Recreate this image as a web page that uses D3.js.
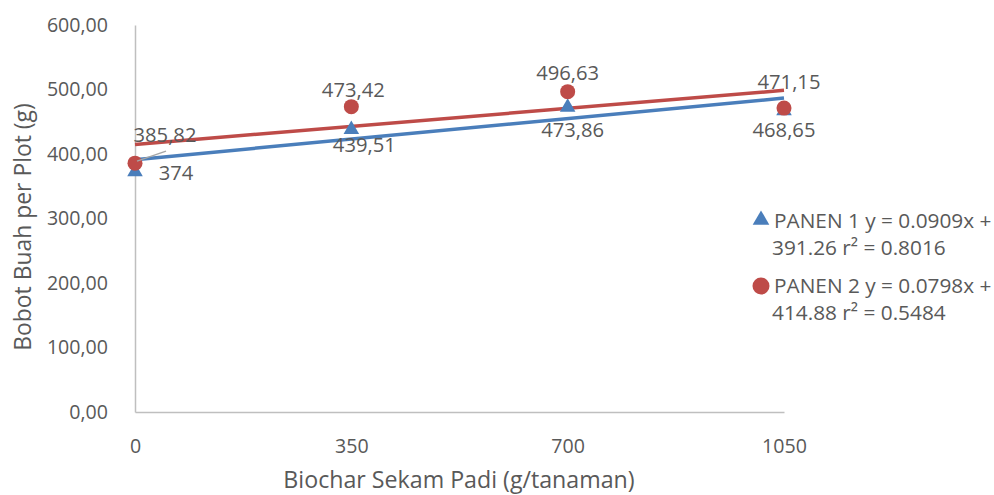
<!DOCTYPE html>
<html><head><meta charset="utf-8">
<script src="https://cdn.jsdelivr.net/npm/d3@7"></script>
<style>body{margin:0;background:#fff}svg{display:block}text{font-family:"Open Sans",sans-serif;fill:#595959}</style>
</head><body><svg id="c" width="994" height="495"></svg>
<script>
const categories = [0, 350, 700, 1050];
const panen1 = [374, 439.51, 473.86, 468.65];
const panen2 = [385.82, 473.42, 496.63, 471.15];
const labels1 = ["374", "439,51", "473,86", "468,65"];
const labels2 = ["385,82", "473,42", "496,63", "471,15"];
const trend1 = {slope: 0.0909, intercept: 391.26};
const trend2 = {slope: 0.0798, intercept: 414.88};
const yTicks = [0, 100, 200, 300, 400, 500, 600];
const legendText1 = ["PANEN 1 y = 0.0909x +", "391.26 r² = 0.8016"];
const legendText2 = ["PANEN 2 y = 0.0798x +", "414.88 r² = 0.5484"];

const blue = "#4a7ebb", red = "#be4b48";
const tickFs = 19.6, labelFs = 20.2, legendFs = 20.8;
const svg = d3.select("#c");
const x = d3.scaleLinear().domain([0, 1050]).range([135, 784]);
const y = d3.scaleLinear().domain([0, 600]).range([412, 25]);

// axes
const yAxis = d3.axisLeft(y).tickValues(yTicks).tickSize(0).tickPadding(27)
  .tickFormat(d => d3.format(".2f")(d).replace(".", ","));
const gy = svg.append("g").attr("transform", `translate(${x(0)},0)`).call(yAxis);
gy.select(".domain").attr("stroke", "#bfbfbf").attr("stroke-width", 1.5);
gy.selectAll("text").style("font-size", tickFs + "px").attr("fill", "#595959").style("font-family", "Open Sans");

const xAxis = d3.axisBottom(x).tickValues(categories).tickSize(0).tickPadding(27).tickFormat(d3.format("d"));
const gx = svg.append("g").attr("transform", `translate(0,${y(0)})`).call(xAxis);
gx.select(".domain").attr("stroke", "#bfbfbf").attr("stroke-width", 1.5);
gx.selectAll("text").style("font-size", tickFs + "px").attr("fill", "#595959").style("font-family", "Open Sans");

// titles
svg.append("text").attr("x", 459).attr("y", 488).attr("text-anchor", "middle")
  .style("font-size", "23.2px").text("Biochar Sekam Padi (g/tanaman)");
svg.append("text").attr("transform", "translate(31,227) rotate(-90)").attr("text-anchor", "middle")
  .style("font-size", "22.9px").text("Bobot Buah per Plot (g)");

// trendlines
const line = d3.line().x(d => x(d[0])).y(d => y(d[1]));
[[trend1, blue], [trend2, red]].forEach(([t, c]) => {
  svg.append("path").datum([0, 1050].map(v => [v, t.slope * v + t.intercept]))
    .attr("d", line).attr("fill", "none").attr("stroke", c).attr("stroke-width", 3.5);
});

// markers
const tri = d3.symbol().type(d3.symbolTriangle).size(105);
svg.selectAll(".p1").data(panen1).join("path")
  .attr("d", tri).attr("fill", blue)
  .attr("transform", (d, i) => `translate(${x(categories[i])},${y(d) + 1})`);
svg.selectAll(".p2").data(panen2).join("circle")
  .attr("cx", (d, i) => x(categories[i])).attr("cy", d => y(d)).attr("r", 7.5).attr("fill", red);

// leader line for first red label
svg.append("line").attr("x1", x(0) + 2).attr("y1", y(panen2[0]) - 2)
  .attr("x2", x(0) + 31).attr("y2", y(panen2[0]) - 12).attr("stroke", "#a6a6a6").attr("stroke-width", 1.5);

// data labels
const off2 = [[30, -21], [2, -10], [0, -12], [5, -19]];
svg.selectAll(".l2").data(panen2).join("text")
  .attr("x", (d, i) => x(categories[i]) + off2[i][0]).attr("y", (d, i) => y(d) + off2[i][1])
  .attr("text-anchor", "middle").style("font-size", labelFs + "px").text((d, i) => labels2[i]);
const off1 = [[41, 9], [13, 23], [5, 30.5], [0, 27]];
svg.selectAll(".l1").data(panen1).join("text")
  .attr("x", (d, i) => x(categories[i]) + off1[i][0]).attr("y", (d, i) => y(d) + off1[i][1])
  .attr("text-anchor", "middle").style("font-size", labelFs + "px")
  .text((d, i) => labels1[i]);

// legend
const lg = svg.append("g");
lg.append("path").attr("d", d3.symbol().type(d3.symbolTriangle).size(120)).attr("fill", blue).attr("transform", "translate(761,220)");
lg.append("circle").attr("cx", 761).attr("cy", 286).attr("r", 8.5).attr("fill", red);
[[legendText1, 228], [legendText2, 293]].forEach(([lines, yy]) => {
  lines.forEach((t, i) => {
    lg.append("text").attr("x", i === 0 ? 774 : 772).attr("y", yy + i * 27)
      .style("font-size", legendFs + "px").text(t);
  });
});
</script></body></html>
